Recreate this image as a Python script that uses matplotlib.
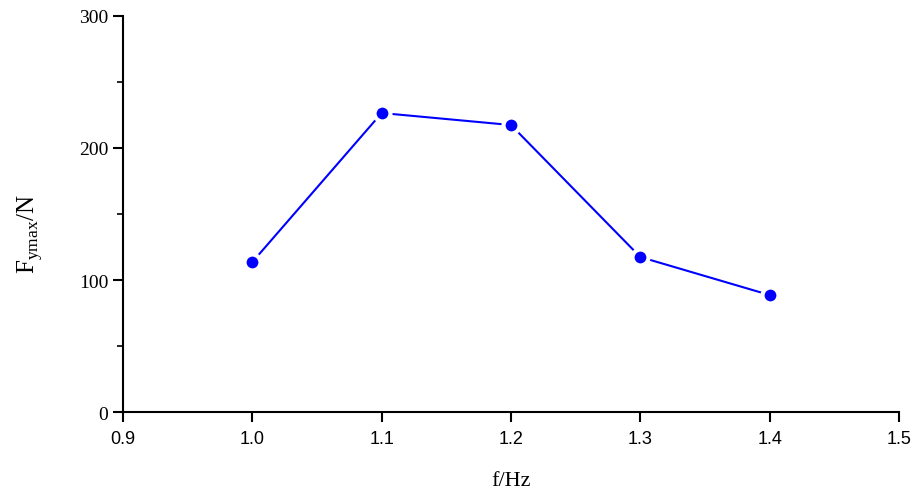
import matplotlib.pyplot as plt
from matplotlib.ticker import MultipleLocator

plt.rcParams["mathtext.fontset"] = "custom"
plt.rcParams["mathtext.rm"] = "Liberation Serif"

# frequency vs peak force
freq = [1.0, 1.1, 1.2, 1.3, 1.4]
force = [113.6, 226.5, 217.4, 117.4, 88.6]

xticks = [0.9, 1.0, 1.1, 1.2, 1.3, 1.4, 1.5]
yticks = [0, 100, 200, 300]

fig = plt.figure(figsize=(9.14, 4.89), dpi=100)
ax = fig.add_axes([123 / 914, 1 - 413 / 489, (899 - 123) / 914, (413 - 17) / 489])

ax.plot(freq, force, color="#0000ff", lw=1.5, marker="o", ms=11.5,
        mfc="#0000ff", mec="white", mew=3)

ax.set_xlim(0.9, 1.5)
ax.set_ylim(0, 300)
ax.set_xticks(xticks)
ax.set_xticklabels([f"{v:.1f}" for v in xticks], family="Liberation Sans", fontsize=13)
ax.set_yticks(yticks)
ax.set_yticklabels([str(v) for v in yticks], family="Liberation Serif", fontsize=14)
ax.yaxis.set_minor_locator(MultipleLocator(50))

for side in ["top", "right"]:
    ax.spines[side].set_visible(False)
for side in ["left", "bottom"]:
    ax.spines[side].set_linewidth(1.5)

ax.tick_params(axis="both", which="major", direction="out", length=7, width=1.5)
ax.tick_params(axis="y", which="minor", direction="out", length=4, width=1.2)
ax.tick_params(axis="x", pad=6)

ax.set_xlabel("f/Hz", family="Liberation Serif", fontsize=16, labelpad=17)
ax.set_ylabel(r"F$_{\mathrm{ymax}}$/N", family="Liberation Serif", fontsize=18)
ax.yaxis.set_label_coords(-0.100, 0.452)

fig.savefig("out.png", dpi=100)
